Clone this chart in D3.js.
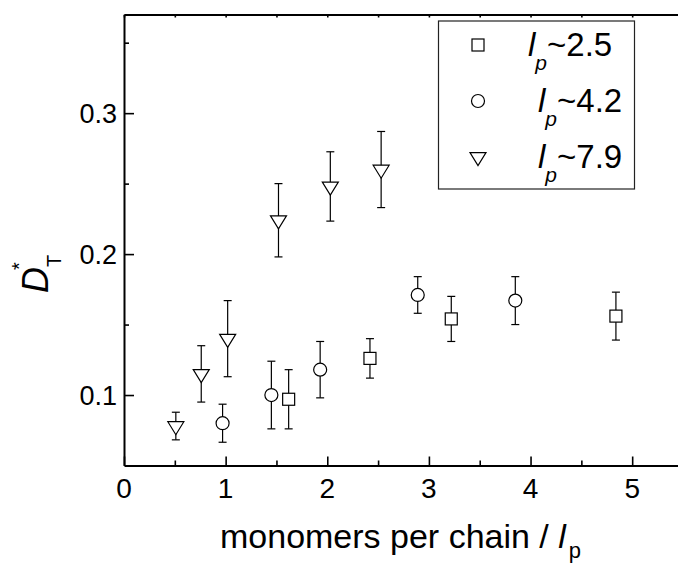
<!DOCTYPE html>
<html lang="en">
<head>
<meta charset="UTF-8">
<title>D*T vs monomers per chain / lp</title>
<script src="https://d3js.org/d3.v7.min.js"></script>
<style>
  body { margin: 0; background: #fff; }
  svg { display: block; font-family: "Liberation Sans", Arial, sans-serif; }
</style>
</head>
<body>
<div id="chart"></div>
<script>
// lp ~ 2.5 (squares)
const sqX = [1.62, 2.42, 3.22, 4.84];
const sqY = [0.097, 0.126, 0.154, 0.156];
const sqErr = [0.021, 0.014, 0.016, 0.017];
// lp ~ 4.2 (circles)
const ciX = [0.97, 1.45, 1.93, 2.89, 3.85];
const ciY = [0.080, 0.100, 0.118, 0.171, 0.167];
const ciErr = [0.0135, 0.024, 0.020, 0.013, 0.017];
// lp ~ 7.9 (down triangles)
const trX = [0.51, 0.76, 1.02, 1.52, 2.03, 2.53];
const trY = [0.078, 0.115, 0.140, 0.224, 0.248, 0.260];
const trErr = [0.0098, 0.020, 0.027, 0.026, 0.0246, 0.027];

const legendValues = ["2.5", "4.2", "7.9"];
const xTicks = [0, 1, 2, 3, 4, 5];
const xMinor = [0.5, 1.5, 2.5, 3.5, 4.5, 5.5];
const yTicks = [0.1, 0.2, 0.3];
const yMinor = [0.15, 0.25, 0.35];

const W = 678, H = 567;

const svg = d3.select("#chart").append("svg")
  .attr("width", W).attr("height", H);

const x = d3.scaleLinear().domain([0, 5.5]).range([124, 683]);
const y = d3.scaleLinear().domain([0.05, 0.37]).range([465.5, 14.5]);

// down-pointing triangle, centroid at origin
function triPath(w, h) {
  const t = h / 3;
  return `M${-w / 2},${-t}L${w / 2},${-t}L0,${h - t}Z`;
}

// ---- axes ----
const bottomAxis = svg.append("g").attr("transform", `translate(0,${y(0.05)})`);
bottomAxis.call(d3.axisBottom(x).tickValues(xTicks).tickSize(-9).tickSizeOuter(0).tickFormat(""));
bottomAxis.select(".domain").attr("stroke-width", 2);
bottomAxis.selectAll(".tick line").attr("stroke-width", 1.6);
svg.append("g").attr("transform", `translate(0,${y(0.05)})`)
  .call(d3.axisBottom(x).tickValues(xMinor).tickSize(-5).tickFormat(""))
  .call(g => g.select(".domain").remove())
  .selectAll(".tick line").attr("stroke-width", 1.6);

const topAxis = svg.append("g").attr("transform", `translate(0,${y(0.37)})`);
topAxis.call(d3.axisTop(x).tickValues(xTicks.concat(xMinor)).tickSize(-3).tickSizeOuter(0).tickFormat(""));
topAxis.select(".domain").attr("stroke-width", 2);
topAxis.selectAll(".tick line").attr("stroke-width", 1.6);

const leftAxis = svg.append("g").attr("transform", `translate(${x(0)},0)`);
leftAxis.call(d3.axisLeft(y).tickValues(yTicks).tickSize(-10).tickSizeOuter(0).tickFormat(""));
leftAxis.select(".domain").attr("stroke-width", 2);
leftAxis.selectAll(".tick line").attr("stroke-width", 1.6);
svg.append("g").attr("transform", `translate(${x(0)},0)`)
  .call(d3.axisLeft(y).tickValues(yMinor).tickSize(-5).tickFormat(""))
  .call(g => g.select(".domain").remove())
  .selectAll(".tick line").attr("stroke-width", 1.6);

// tick labels
svg.selectAll(".xlab").data(xTicks).enter().append("text")
  .attr("class", "xlab")
  .attr("x", d => x(d)).attr("y", 498)
  .attr("text-anchor", "middle")
  .attr("font-size", 28)
  .text(d => d);

svg.selectAll(".ylab").data(yTicks).enter().append("text")
  .attr("class", "ylab")
  .attr("x", 117).attr("y", d => y(d))
  .attr("text-anchor", "end")
  .attr("dy", "0.36em")
  .attr("font-size", 27)
  .text(d => d3.format(".1f")(d));

// axis titles
const xt = svg.append("text")
  .attr("x", 220).attr("y", 548)
  .attr("font-size", 34);
xt.append("tspan").text("monomers per chain / ");
xt.append("tspan").attr("font-style", "italic").text("l");
xt.append("tspan").attr("font-size", 22).attr("dy", 10).attr("dx", 3).text("p");

svg.append("text")
  .attr("transform", "translate(48,293) rotate(-90)")
  .attr("font-size", 36).attr("font-style", "italic")
  .text("D");
svg.append("text")
  .attr("transform", "translate(26,270) rotate(-90)")
  .attr("font-size", 20)
  .text("*");
svg.append("text")
  .attr("transform", "translate(61,267) rotate(-90)")
  .attr("font-size", 20)
  .text("T");

// ---- data ----
const series = [
  { xs: sqX, ys: sqY, es: sqErr, shape: "square" },
  { xs: ciX, ys: ciY, es: ciErr, shape: "circle" },
  { xs: trX, ys: trY, es: trErr, shape: "triangle" }
];

function drawMarker(g, shape, size) {
  if (shape === "square") {
    g.append("rect").attr("x", -size / 2).attr("y", -size / 2)
      .attr("width", size).attr("height", size);
  } else if (shape === "circle") {
    g.append("circle").attr("r", size / 2 + 0.5);
  } else {
    g.append("path").attr("d", triPath(size + 4, size + 1));
  }
  g.selectAll("*").attr("fill", "#fff").attr("stroke", "#000").attr("stroke-width", 1.2);
}

const cap = 4;
series.forEach(s => {
  const pts = s.xs.map((v, i) => ({ x: v, y: s.ys[i], e: s.es[i] }));
  const eb = svg.append("g").attr("stroke", "#000").attr("stroke-width", 1.2);
  pts.forEach(p => {
    const cx = x(p.x), top = y(p.y + p.e), bot = y(p.y - p.e);
    eb.append("line").attr("x1", cx).attr("x2", cx).attr("y1", top).attr("y2", bot);
    eb.append("line").attr("x1", cx - cap).attr("x2", cx + cap).attr("y1", top).attr("y2", top);
    eb.append("line").attr("x1", cx - cap).attr("x2", cx + cap).attr("y1", bot).attr("y2", bot);
  });
  pts.forEach(p => {
    const g = svg.append("g").attr("transform", `translate(${x(p.x)},${y(p.y)})`);
    drawMarker(g, s.shape, 12);
  });
});

// ---- legend ----
svg.append("rect")
  .attr("x", 438.5).attr("y", 21).attr("width", 196).attr("height", 168)
  .attr("fill", "#fff").attr("stroke", "#222").attr("stroke-width", 1.2);

const shapes = ["square", "circle", "triangle"];
const rowY = [45, 101, 157];
const textX = [528, 538, 538];
legendValues.forEach((v, i) => {
  const g = svg.append("g").attr("transform", `translate(478,${rowY[i]})`);
  drawMarker(g, shapes[i], 12);
  const t = svg.append("text")
    .attr("x", textX[i]).attr("y", rowY[i] + 11)
    .attr("font-size", 33);
  t.append("tspan").attr("font-style", "italic").text("l");
  t.append("tspan").attr("font-style", "italic").attr("font-size", 21).attr("dy", 14).text("p");
  t.append("tspan").attr("dy", -14).text("~" + v);
});
</script>
</body>
</html>
